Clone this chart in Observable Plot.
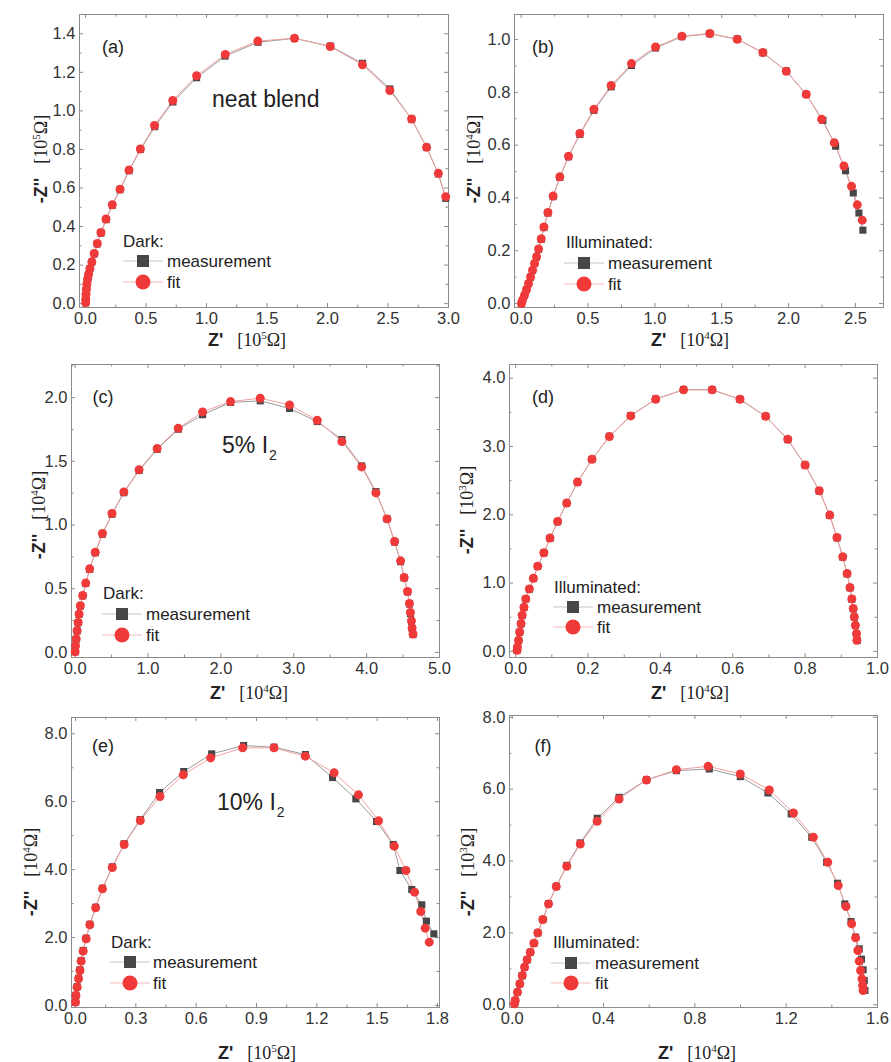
<!DOCTYPE html>
<html><head><meta charset="utf-8">
<script src="https://cdn.jsdelivr.net/npm/d3@7"></script>
<script src="https://cdn.jsdelivr.net/npm/@observablehq/plot@0.6"></script>
<style>
body{margin:0;background:#fff;}
#fig{position:relative;width:891px;height:1062px;overflow:hidden;font-family:"Liberation Sans",Arial,sans-serif;color:#222;background:#fff}
#fig svg{position:absolute;}
.xt,.yt{position:absolute;white-space:nowrap;line-height:1;color:#222}
.xt{transform:translate(-50%,-50%);}
.yt{transform:translate(-50%,-50%) rotate(-90deg);}
.zb{font-family:"Liberation Sans",Arial,sans-serif;font-weight:bold;font-size:18px;}
.un{font-family:"Liberation Serif","Times New Roman",serif;font-size:18px;margin-left:14px;}
.un sup{font-size:11px;vertical-align:7px;line-height:0}
</style></head><body><div id="fig"></div><script>
// ---------- data (Z' , -Z'') ----------
const measA = [[0.001,0.004],[0.002,0.022],[0.004,0.048],[0.007,0.074],[0.011,0.100],[0.017,0.126],[0.025,0.152],[0.036,0.181],[0.052,0.215],[0.072,0.258],[0.097,0.310],[0.128,0.366],[0.170,0.436],[0.222,0.510],[0.285,0.591],[0.360,0.690],[0.455,0.800],[0.572,0.918],[0.722,1.046],[0.918,1.172],[1.153,1.284],[1.425,1.356],[1.727,1.376],[2.023,1.336],[2.289,1.247],[2.515,1.114],[2.695,0.957],[2.819,0.811],[2.916,0.673],[2.977,0.546]];
const fitA = [[0.001,0.005],[0.002,0.023],[0.004,0.049],[0.007,0.075],[0.011,0.101],[0.017,0.127],[0.025,0.153],[0.036,0.182],[0.052,0.217],[0.072,0.260],[0.097,0.312],[0.127,0.369],[0.169,0.439],[0.221,0.513],[0.285,0.594],[0.359,0.693],[0.453,0.802],[0.570,0.924],[0.721,1.054],[0.918,1.182],[1.155,1.293],[1.424,1.362],[1.727,1.377],[2.023,1.334],[2.289,1.239],[2.515,1.106],[2.695,0.958],[2.819,0.811],[2.916,0.676],[2.977,0.555]];

const measB = [[0.002,0.0],[0.010,0.012],[0.025,0.031],[0.040,0.052],[0.055,0.075],[0.070,0.100],[0.085,0.125],[0.100,0.151],[0.115,0.176],[0.130,0.205],[0.150,0.243],[0.170,0.288],[0.200,0.343],[0.239,0.405],[0.289,0.478],[0.354,0.556],[0.439,0.641],[0.544,0.732],[0.673,0.821],[0.825,0.902],[1.005,0.968],[1.202,1.011],[1.411,1.022],[1.616,1.002],[1.808,0.950],[1.983,0.881],[2.132,0.792],[2.257,0.694],[2.352,0.596],[2.426,0.503],[2.484,0.419],[2.526,0.343],[2.556,0.278]];
const fitB = [[0.002,0.0],[0.010,0.013],[0.025,0.032],[0.040,0.053],[0.055,0.076],[0.070,0.101],[0.085,0.126],[0.100,0.152],[0.115,0.177],[0.130,0.207],[0.150,0.245],[0.170,0.290],[0.200,0.345],[0.239,0.407],[0.289,0.480],[0.354,0.558],[0.439,0.644],[0.544,0.736],[0.673,0.826],[0.825,0.909],[1.005,0.972],[1.202,1.013],[1.411,1.023],[1.616,1.001],[1.808,0.951],[1.983,0.880],[2.132,0.793],[2.247,0.698],[2.342,0.609],[2.414,0.521],[2.471,0.444],[2.514,0.374],[2.551,0.316]];

const measC = [[0.0,0.005],[0.005,0.050],[0.014,0.103],[0.027,0.168],[0.041,0.232],[0.054,0.298],[0.072,0.363],[0.104,0.444],[0.145,0.541],[0.199,0.652],[0.276,0.782],[0.375,0.928],[0.506,1.085],[0.669,1.254],[0.877,1.428],[1.125,1.594],[1.415,1.752],[1.749,1.866],[2.133,1.962],[2.540,1.975],[2.942,1.915],[3.322,1.812],[3.661,1.671],[3.932,1.464],[4.127,1.263],[4.280,1.048],[4.384,0.866],[4.466,0.712],[4.515,0.585],[4.561,0.475],[4.588,0.380],[4.601,0.305],[4.615,0.244],[4.624,0.188],[4.637,0.140]];
const fitC = [[0.0,0.005],[0.005,0.052],[0.014,0.105],[0.027,0.170],[0.041,0.235],[0.054,0.301],[0.072,0.366],[0.104,0.447],[0.145,0.544],[0.199,0.656],[0.276,0.787],[0.375,0.933],[0.506,1.090],[0.669,1.260],[0.877,1.433],[1.125,1.600],[1.415,1.759],[1.749,1.888],[2.133,1.969],[2.540,1.995],[2.942,1.943],[3.322,1.822],[3.661,1.655],[3.932,1.456],[4.127,1.252],[4.280,1.048],[4.384,0.871],[4.466,0.719],[4.515,0.588],[4.561,0.478],[4.588,0.384],[4.601,0.314],[4.615,0.248],[4.624,0.191],[4.637,0.144]];

const measD = [[0.004,0.015],[0.005,0.062],[0.008,0.158],[0.011,0.281],[0.015,0.402],[0.018,0.524],[0.023,0.641],[0.028,0.765],[0.038,0.910],[0.049,1.066],[0.061,1.243],[0.078,1.440],[0.095,1.655],[0.116,1.898],[0.141,2.168],[0.171,2.476],[0.211,2.810],[0.259,3.148],[0.318,3.452],[0.387,3.694],[0.464,3.832],[0.543,3.830],[0.620,3.690],[0.691,3.440],[0.752,3.100],[0.800,2.725],[0.839,2.348],[0.868,1.990],[0.888,1.662],[0.904,1.380],[0.916,1.135],[0.924,0.930],[0.929,0.764],[0.933,0.622],[0.936,0.500],[0.939,0.377],[0.942,0.255],[0.944,0.158]];
const fitD = [[0.004,0.015],[0.005,0.064],[0.008,0.161],[0.011,0.284],[0.015,0.406],[0.018,0.528],[0.023,0.645],[0.028,0.768],[0.038,0.914],[0.049,1.071],[0.061,1.247],[0.078,1.443],[0.095,1.658],[0.116,1.902],[0.141,2.171],[0.171,2.479],[0.211,2.812],[0.259,3.144],[0.318,3.447],[0.387,3.692],[0.464,3.829],[0.543,3.829],[0.620,3.692],[0.691,3.443],[0.752,3.105],[0.800,2.729],[0.839,2.352],[0.868,1.995],[0.888,1.667],[0.904,1.384],[0.916,1.139],[0.924,0.934],[0.929,0.768],[0.933,0.626],[0.936,0.504],[0.939,0.381],[0.942,0.259],[0.943,0.161]];

const measE = [[0.0,0.10],[0.002,0.30],[0.008,0.55],[0.015,0.80],[0.022,1.05],[0.028,1.32],[0.038,1.62],[0.053,1.98],[0.071,2.39],[0.100,2.89],[0.134,3.45],[0.183,4.08],[0.242,4.76],[0.322,5.476],[0.418,6.271],[0.538,6.889],[0.677,7.409],[0.836,7.655],[0.987,7.605],[1.143,7.390],[1.278,6.712],[1.394,6.084],[1.497,5.417],[1.580,4.740],[1.613,3.974],[1.672,3.415],[1.722,2.964],[1.745,2.483],[1.782,2.110]];
const fitE = [[0.0,0.098],[0.002,0.294],[0.008,0.540],[0.015,0.785],[0.022,1.030],[0.028,1.305],[0.038,1.600],[0.053,1.963],[0.071,2.375],[0.100,2.875],[0.134,3.435],[0.183,4.063],[0.242,4.740],[0.322,5.447],[0.420,6.153],[0.536,6.791],[0.672,7.291],[0.831,7.586],[0.987,7.586],[1.143,7.341],[1.286,6.850],[1.407,6.202],[1.507,5.437],[1.585,4.691],[1.643,3.974],[1.686,3.337],[1.717,2.767],[1.739,2.277],[1.759,1.865]];

const measF = [[0.010,0.03],[0.013,0.12],[0.023,0.35],[0.033,0.58],[0.044,0.81],[0.054,1.04],[0.065,1.25],[0.079,1.46],[0.095,1.71],[0.112,2.00],[0.134,2.37],[0.159,2.81],[0.193,3.30],[0.239,3.88],[0.298,4.504],[0.372,5.190],[0.468,5.774],[0.588,6.26],[0.719,6.515],[0.863,6.562],[0.999,6.349],[1.120,5.894],[1.222,5.311],[1.312,4.662],[1.377,3.967],[1.425,3.383],[1.457,2.808],[1.484,2.317],[1.504,1.881],[1.520,1.557],[1.530,1.270],[1.537,0.973],[1.542,0.677],[1.545,0.399]];
const fitF = [[0.010,0.03],[0.013,0.120],[0.023,0.352],[0.033,0.584],[0.044,0.816],[0.054,1.047],[0.065,1.251],[0.079,1.464],[0.095,1.715],[0.112,2.002],[0.134,2.373],[0.159,2.808],[0.193,3.290],[0.239,3.855],[0.298,4.476],[0.372,5.107],[0.468,5.728],[0.588,6.256],[0.719,6.543],[0.858,6.636],[0.999,6.423],[1.126,5.978],[1.232,5.338],[1.319,4.662],[1.382,3.967],[1.428,3.318],[1.462,2.734],[1.487,2.252],[1.504,1.863],[1.514,1.511],[1.520,1.214],[1.526,0.955],[1.532,0.723],[1.535,0.538],[1.537,0.399]];

// ---------- tick labels ----------
const xTicksA = [0,0.5,1.0,1.5,2.0,2.5,3.0], yTicksA = [0,0.2,0.4,0.6,0.8,1.0,1.2,1.4];
const xTicksB = [0,0.5,1.0,1.5,2.0,2.5],     yTicksB = [0,0.2,0.4,0.6,0.8,1.0];
const xTicksC = [0,1,2,3,4,5],               yTicksC = [0,0.5,1.0,1.5,2.0];
const xTicksD = [0,0.2,0.4,0.6,0.8,1.0],     yTicksD = [0,1,2,3,4];
const xTicksE = [0,0.3,0.6,0.9,1.2,1.5,1.8], yTicksE = [0,2,4,6,8];
const xTicksF = [0,0.4,0.8,1.2,1.6],         yTicksF = [0,2,4,6,8];

const condition = ["Dark:", "Illuminated:"];
const seriesNames = ["measurement", "fit"];
const notes = {a: "neat blend", c: "5% I", e: "10% I"};
const exps = {a: "5", b: "4", c: "4", d: "4", e: "5", f: "4"};
const yexps = {a: "5", b: "4", c: "4", d: "3", e: "4", f: "3"};

// ---------- layout ----------
const panels = [
  {key:"a", meas:measA, fit:fitA, xT:xTicksA, yT:yTicksA, xs:0.25, ys:0.1, xD:[-0.05,3.0], yD:[-0.02,1.5],
   left:0, top:0, w:458, h:330, mL:79, mT:14, mR:10, mB:23, cond:0,
   tag:[34,33], leg:{tx:44, ty:227, sx:64, sy:247, cy:268, lx:88}, note:{dx:133, dy:85, size:23},
   xTitle:[247,340], yTitle:[41,159]},
  {key:"b", meas:measB, fit:fitB, xT:xTicksB, yT:yTicksB, xs:0.25, ys:0.1, xD:[-0.05,2.71], yD:[-0.015,1.095],
   left:455, top:0, w:436, h:330, mL:59, mT:14, mR:8, mB:23, cond:1,
   tag:[29,33], leg:{tx:52, ty:228, sx:70, sy:249, cy:270, lx:94},
   xTitle:[690,340], yTitle:[474,159]},
  {key:"c", meas:measC, fit:fitC, xT:xTicksC, yT:yTicksC, xs:0.5, ys:0.25, xD:[-0.05,5.0], yD:[-0.04,2.26],
   left:0, top:345, w:455, h:335, mL:71, mT:19, mR:16, mB:23, cond:0,
   tag:[32,33], leg:{tx:32, ty:229, sx:51, sy:250, cy:271, lx:75}, note:{dx:151, dy:81, size:23},
   xTitle:[249,693], yTitle:[39,515]},
  {key:"d", meas:measD, fit:fitD, xT:xTicksD, yT:yTicksD, xs:0.1, ys:0.5, xD:[-0.017,1.0], yD:[-0.09,4.2],
   left:455, top:345, w:436, h:335, mL:54, mT:19, mR:14, mB:23, cond:1,
   tag:[34,33], leg:{tx:45, ty:223, sx:64, sy:243, cy:263, lx:88},
   xTitle:[690,693], yTitle:[467,510]},
  {key:"e", meas:measE, fit:fitE, xT:xTicksE, yT:yTicksE, xs:0.15, ys:1, xD:[-0.02,1.81], yD:[-0.06,8.48],
   left:0, top:700, w:455, h:332, mL:71, mT:17, mR:16, mB:25, cond:0,
   tag:[32,29], leg:{tx:40, ty:225, sx:59, sy:245, cy:266, lx:82}, note:{dx:146, dy:85, size:23},
   xTitle:[257,1053], yTitle:[31,872]},
  {key:"f", meas:measF, fit:fitF, xT:xTicksF, yT:yTicksF, xs:0.2, ys:1, xD:[-0.012,1.6], yD:[-0.075,8.05],
   left:455, top:700, w:436, h:332, mL:54, mT:15, mR:14, mB:25, cond:1,
   tag:[34,31], leg:{tx:44, ty:227, sx:62, sy:248, cy:268, lx:86},
   xTitle:[697,1053], yTitle:[468,872]}
];

const FONT = '"Liberation Sans", Arial, sans-serif';
const frameColor = "#8c8c8c";
const measColor = "#474747", fitColor = "#f03a3a";
const measLine = "#9a9a9a", fitLine = "#f2a0a0";

function minors(domain, step, majors) {
  const out = [];
  const lo = Math.ceil(domain[0] / step - 1e-9), hi = Math.floor(domain[1] / step + 1e-9);
  for (let k = lo; k <= hi; k++) {
    const v = +(k * step).toFixed(6);
    if (!majors.some(m => Math.abs(m - v) < 1e-9)) out.push(v);
  }
  return out;
}

const fig = document.getElementById("fig");

for (const p of panels) {
  const iw = p.w - p.mL - p.mR, ih = p.h - p.mT - p.mB;
  const mx = minors(p.xD, p.xs, p.xT), my = minors(p.yD, p.ys, p.yT);
  const X = d => d[0], Y = d => d[1];
  const svg = Plot.plot({
    width: p.w, height: p.h,
    marginLeft: p.mL, marginRight: p.mR, marginTop: p.mT, marginBottom: p.mB,
    x: {domain: p.xD}, y: {domain: p.yD},
    style: {background: "transparent", overflow: "visible", fontFamily: FONT, fontSize: "16px"},
    marks: [
      Plot.frame({stroke: frameColor}),
      Plot.tickX(p.xT, {x: d => d, stroke: frameColor, insetTop: ih - 4}),
      Plot.tickX(p.xT, {x: d => d, stroke: frameColor, insetBottom: ih - 4}),
      Plot.tickX(mx, {x: d => d, stroke: frameColor, insetTop: ih - 2.5}),
      Plot.tickX(mx, {x: d => d, stroke: frameColor, insetBottom: ih - 2.5}),
      Plot.tickY(p.yT, {y: d => d, stroke: frameColor, insetRight: iw - 4}),
      Plot.tickY(p.yT, {y: d => d, stroke: frameColor, insetLeft: iw - 4}),
      Plot.tickY(my, {y: d => d, stroke: frameColor, insetRight: iw - 2.5}),
      Plot.tickY(my, {y: d => d, stroke: frameColor, insetLeft: iw - 2.5}),
      Plot.axisX(p.xT, {tickSize: 0, tickPadding: 5, tickFormat: d => d.toFixed(1), fontSize: 16.5, color: "#333", label: null}),
      Plot.axisY(p.yT, {tickSize: 0, tickPadding: 4, tickFormat: d => d.toFixed(1), fontSize: 16.5, color: "#333", label: null}),
      Plot.line(p.meas, {x: X, y: Y, stroke: measLine, strokeWidth: 1}),
      Plot.line(p.fit, {x: X, y: Y, stroke: fitLine, strokeWidth: 1}),
      Plot.dot(p.meas, {x: X, y: Y, symbol: "square", r: 4, fill: measColor}),
      Plot.dot(p.fit, {x: X, y: Y, r: 4.5, fill: fitColor})
    ]
  });
  svg.style.left = p.left + "px";
  svg.style.top = p.top + "px";

  const g = d3.select(svg).append("g")
    .attr("transform", `translate(${p.mL},${p.mT})`)
    .attr("font-family", FONT).attr("fill", "#222").attr("text-anchor", "start");

  // panel tag
  g.append("text").attr("x", p.tag[0]).attr("y", p.tag[1])
    .attr("text-anchor", "middle").attr("dominant-baseline", "central")
    .attr("font-size", 18).text(`(${p.key})`);

  // annotation
  if (p.note) {
    const t = g.append("text").attr("x", p.note.dx).attr("y", p.note.dy).attr("text-anchor", "start")
      .attr("dominant-baseline", "central").attr("font-size", p.note.size);
    t.append("tspan").text(notes[p.key]);
    if (p.key !== "a") t.append("tspan").attr("font-size", 14).attr("dy", 10).attr("dx", 1).text("2");
  }

  // legend
  const L = p.leg;
  g.append("text").attr("x", L.tx).attr("y", L.ty).attr("dominant-baseline", "central").attr("text-anchor", "start")
    .attr("font-size", 17).text(condition[p.cond]);
  g.append("line").attr("x1", L.sx - 20).attr("x2", L.sx + 20).attr("y1", L.sy).attr("y2", L.sy)
    .attr("stroke", "#c4c4c4").attr("stroke-width", 1);
  g.append("rect").attr("x", L.sx - 6).attr("y", L.sy - 6).attr("width", 12).attr("height", 12).attr("fill", measColor);
  g.append("text").attr("x", L.lx).attr("y", L.sy).attr("dominant-baseline", "central").attr("text-anchor", "start")
    .attr("font-size", 17).text(seriesNames[0]);
  g.append("line").attr("x1", L.sx - 20).attr("x2", L.sx + 20).attr("y1", L.cy).attr("y2", L.cy)
    .attr("stroke", "#f6baba").attr("stroke-width", 1);
  g.append("circle").attr("cx", L.sx).attr("cy", L.cy).attr("r", 7.5).attr("fill", fitColor);
  g.append("text").attr("x", L.lx).attr("y", L.cy).attr("dominant-baseline", "central").attr("text-anchor", "start")
    .attr("font-size", 17).text(seriesNames[1]);

  fig.appendChild(svg);

  // axis titles
  const xt = document.createElement("div");
  xt.className = "xt";
  xt.style.left = p.xTitle[0] + "px"; xt.style.top = p.xTitle[1] + "px";
  xt.innerHTML = `<span class="zb">Z'</span><span class="un">[10<sup>${exps[p.key]}</sup>Ω]</span>`;
  fig.appendChild(xt);
  const yt = document.createElement("div");
  yt.className = "yt";
  yt.style.left = p.yTitle[0] + "px"; yt.style.top = p.yTitle[1] + "px";
  yt.innerHTML = `<span class="zb">-Z''</span><span class="un">[10<sup>${yexps[p.key]}</sup>Ω]</span>`;
  fig.appendChild(yt);
}
</script></body></html>
